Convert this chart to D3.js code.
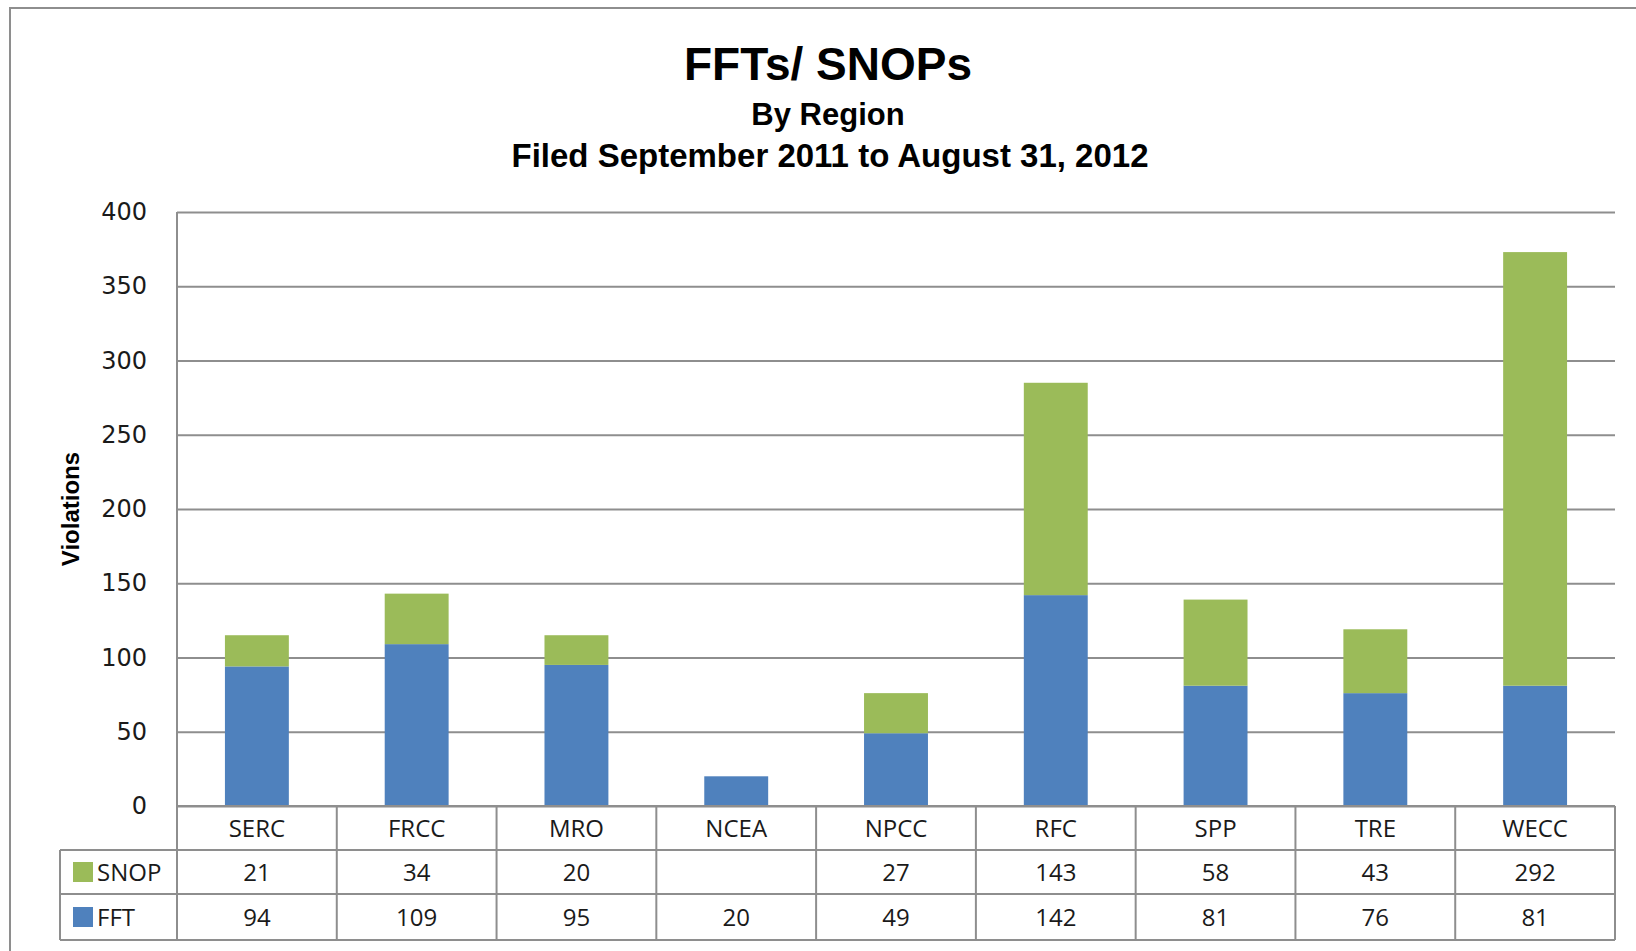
<!DOCTYPE html>
<html>
<head>
<meta charset="utf-8">
<script src="https://cdn.jsdelivr.net/npm/d3@7"></script>
<style>
  body { margin: 0; background: #fff; }
  svg { display: block; }
</style>
</head>
<body>
<script>
const w = 1636;
const h = 951;

// data
const regions = ["SERC", "FRCC", "MRO", "NCEA", "NPCC", "RFC", "SPP", "TRE", "WECC"];
const fft = [94, 109, 95, 20, 49, 142, 81, 76, 81];
const snop = [21, 34, 20, null, 27, 143, 58, 43, 292];
const yTicks = [0, 50, 100, 150, 200, 250, 300, 350, 400];
const seriesNames = ["SNOP", "FFT"];
const colors = { FFT: "#4f81bd", SNOP: "#9bbb59" };

const plot = { left: 177, right: 1615, top: 212, bottom: 806 };
const rowH = [44, 44, 46];
const legendLeft = 60;
const gridColor = "#8e8e8e";

const svg = d3.select("body").append("svg")
  .attr("width", w)
  .attr("height", h);

// outer chart border (runs off the picture on right/bottom)
svg.append("rect")
  .attr("x", 10).attr("y", 8)
  .attr("width", 1700).attr("height", 1000)
  .attr("fill", "none")
  .attr("stroke", gridColor)
  .attr("stroke-width", 2);

// titles
const titleX = 828;
svg.append("text")
  .attr("x", titleX).attr("y", 80)
  .attr("text-anchor", "middle")
  .style("font-family", "'Liberation Sans', Arial, sans-serif")
  .style("font-weight", "bold")
  .style("font-size", "46px")
  .text("FFTs/ SNOPs");
svg.append("text")
  .attr("x", titleX).attr("y", 125)
  .attr("text-anchor", "middle")
  .style("font-family", "'Liberation Sans', Arial, sans-serif")
  .style("font-weight", "bold")
  .style("font-size", "31px")
  .text("By Region");
svg.append("text")
  .attr("x", titleX + 2).attr("y", 167)
  .attr("text-anchor", "middle")
  .style("font-family", "'Liberation Sans', Arial, sans-serif")
  .style("font-weight", "bold")
  .style("font-size", "33px")
  .text("Filed September 2011 to August 31, 2012");

// scales
const x = d3.scaleBand()
  .domain(regions)
  .range([plot.left, plot.right])
  .padding(0);

const y = d3.scaleLinear()
  .domain([0, 400])
  .range([plot.bottom, plot.top]);

// gridlines + tick labels
const yAxis = d3.axisLeft(y)
  .tickValues(yTicks)
  .tickSize(-(plot.right - plot.left))
  .tickPadding(30);

const gAxis = svg.append("g")
  .attr("transform", `translate(${plot.left},0)`)
  .call(yAxis);
gAxis.select(".domain").remove();
gAxis.selectAll(".tick line")
  .attr("stroke", gridColor)
  .attr("stroke-width", 2);
gAxis.selectAll(".tick text")
  .attr("fill", "#1a1a1a")
  .style("font-family", "'DejaVu Sans', Verdana, sans-serif")
  .style("font-size", "24px");

// y axis line
svg.append("line")
  .attr("x1", plot.left).attr("x2", plot.left)
  .attr("y1", plot.top).attr("y2", plot.bottom)
  .attr("stroke", gridColor).attr("stroke-width", 2);

// axis title
svg.append("text")
  .attr("transform", `translate(70,${(plot.top + plot.bottom) / 2}) rotate(-90)`)
  .attr("text-anchor", "middle")
  .attr("dominant-baseline", "central")
  .style("font-family", "'Liberation Sans', Arial, sans-serif")
  .style("font-weight", "bold")
  .style("font-size", "24px")
  .text("Violations");

// stacked bars
const table = regions.map((r, i) => ({ region: r, FFT: fft[i], SNOP: snop[i] || 0 }));
const stack = d3.stack().keys(["FFT", "SNOP"]);
const layers = stack(table);

const barW = x.bandwidth() * 0.4;
svg.append("g")
  .selectAll("g")
  .data(layers)
  .join("g")
  .attr("fill", d => colors[d.key])
  .selectAll("rect")
  .data(d => d)
  .join("rect")
  .attr("x", d => x(d.data.region) + (x.bandwidth() - barW) / 2)
  .attr("y", d => y(d[1]))
  .attr("width", barW)
  .attr("height", d => y(d[0]) - y(d[1]));

// data table below
const tableFont = "'Open Sans', sans-serif";
const rowTop = [plot.bottom, plot.bottom + rowH[0], plot.bottom + rowH[0] + rowH[1]];
const tableBottom = rowTop[2] + rowH[2];
const tg = svg.append("g")
  .attr("stroke", gridColor)
  .attr("stroke-width", 2);

// horizontal lines
tg.append("line")
  .attr("x1", plot.left).attr("x2", plot.right)
  .attr("y1", rowTop[0]).attr("y2", rowTop[0]);
[rowTop[1], rowTop[2], tableBottom].forEach(yy => {
  tg.append("line")
    .attr("x1", legendLeft).attr("x2", plot.right)
    .attr("y1", yy).attr("y2", yy);
});
// vertical lines
tg.append("line")
  .attr("x1", legendLeft).attr("x2", legendLeft)
  .attr("y1", rowTop[1]).attr("y2", tableBottom);
regions.concat(["_end"]).forEach((r, i) => {
  const xx = plot.left + i * x.step();
  tg.append("line")
    .attr("x1", xx).attr("x2", xx)
    .attr("y1", rowTop[0]).attr("y2", tableBottom);
});

// header row labels
svg.append("g")
  .selectAll("text")
  .data(regions)
  .join("text")
  .attr("x", d => x(d) + x.bandwidth() / 2)
  .attr("y", rowTop[0] + rowH[0] / 2 + 9)
  .attr("text-anchor", "middle")
  .attr("fill", "#1a1a1a")
  .style("font-family", tableFont)
  .style("font-size", "24px")
  .text(d => d);

const rowValues = { SNOP: snop, FFT: fft };
seriesNames.forEach((name, ri) => {
  const top = rowTop[ri + 1];
  const cy = top + rowH[ri + 1] / 2;
  svg.append("rect")
    .attr("x", 73).attr("y", cy - 10)
    .attr("width", 20).attr("height", 20)
    .attr("fill", colors[name]);
  svg.append("text")
    .attr("x", 97).attr("y", cy + 9)
    .attr("fill", "#1a1a1a")
    .style("font-family", tableFont)
    .style("font-size", "24px")
    .text(name);
  svg.append("g")
    .selectAll("text")
    .data(regions)
    .join("text")
    .attr("x", d => x(d) + x.bandwidth() / 2)
    .attr("y", cy + 9)
    .attr("text-anchor", "middle")
    .attr("fill", "#1a1a1a")
    .style("font-family", tableFont)
    .style("font-size", "24px")
    .text((d, i) => rowValues[name][i] == null ? "" : rowValues[name][i]);
});
</script>
</body>
</html>
